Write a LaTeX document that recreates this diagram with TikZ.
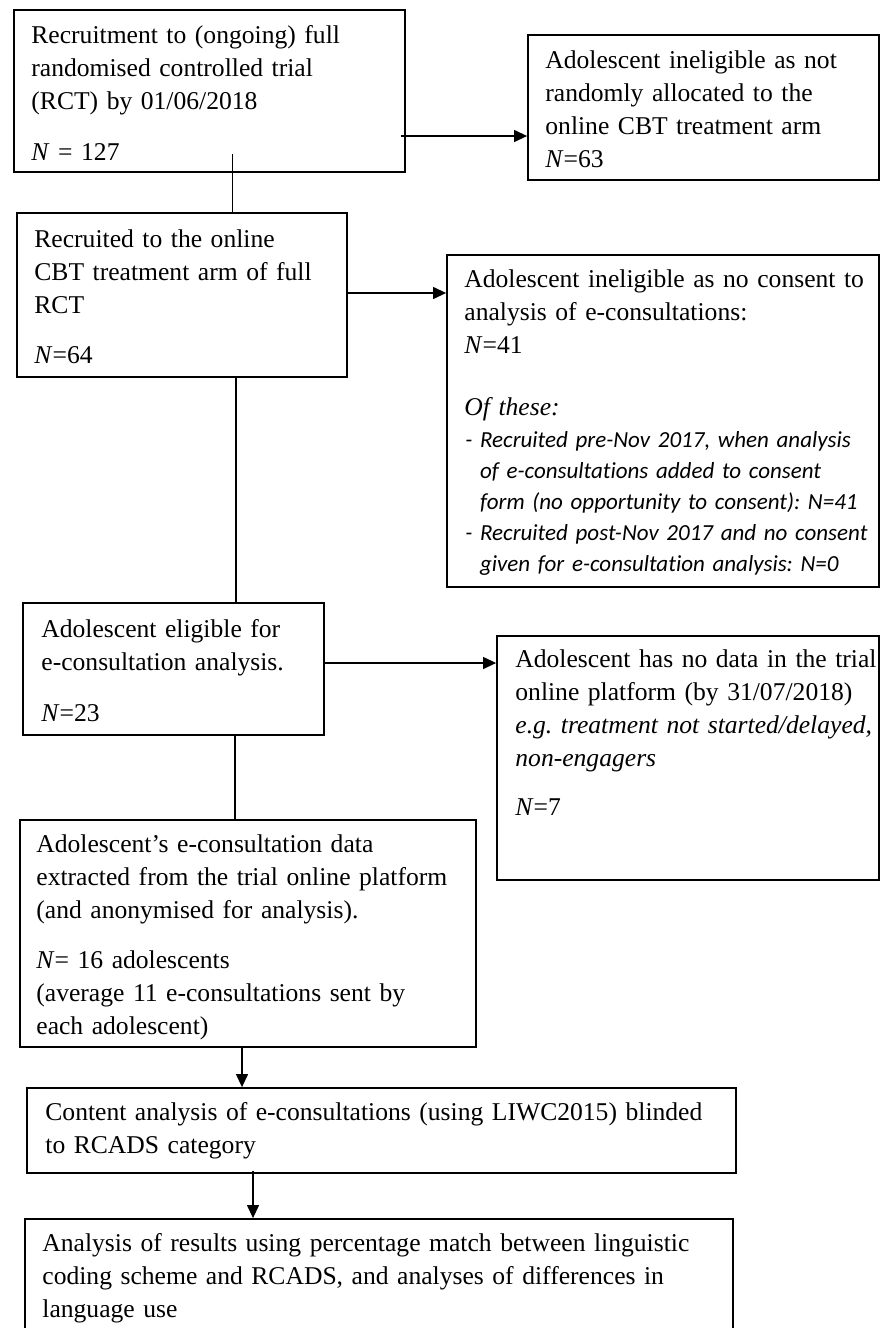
\documentclass[tikz,border=0pt]{standalone}
\usepackage{fontspec}
\setmainfont{Liberation Serif}
\newfontfamily\calibri[Ligatures=NoCommon]{Carlito}
\usetikzlibrary{arrows.meta,fit}
\frenchspacing

\begin{document}
\begin{tikzpicture}[x=0.5pt,y=-0.5pt,
    box/.style={draw, line width=0.9pt, inner sep=0pt},
    txt/.style={anchor=base west, inner sep=0pt, text width=360pt, align=left,
        font=\fontsize{12.8}{16.5}\selectfont},
    lst/.style={txt, font=\calibri\itshape\fontsize{11.5}{15.5}\selectfont},
    link/.style={line width=0.6pt},
    arr/.style={link, -{Triangle[length=6.5pt,width=6pt]}}]
    \clip (0,0) rectangle (880,1328);

    % boxes
    \node[box, fit={(14,10) (405,172)}] (rct) {};
    \node[box, fit={(528,35) (879,180)}] (notrand) {};
    \node[box, fit={(17,213) (347,377)}] (arm) {};
    \node[box, fit={(447,255) (879,587)}] (noconsent) {};
    \node[box, fit={(23,603) (324,735)}] (eligible) {};
    \node[box, fit={(497,636) (879,880)}] (nodata) {};
    \node[box, fit={(20,820) (476,1047)}] (extracted) {};
    \node[box, fit={(27,1088) (736,1173)}] (content) {};
    \node[box, fit={(25,1219) (733,1360)}] (results) {};

    % texts
    \node[txt] (rct-t) at (31,43) {Recruitment to (ongoing) full\\
        randomised controlled trial\\
        (RCT) by 01/06/2018\\[9pt]
        \textit{N} = 127};
    \node[txt] (notrand-t) at (545,68) {Adolescent ineligible as not\\
        randomly allocated to the\\
        online CBT treatment arm\\
        \textit{N}=63};
    \node[txt] (arm-t) at (34,247) {Recruited to the online\\
        CBT treatment arm of full\\
        RCT\\[8.5pt]
        \textit{N}=64};
    \node[txt] (noconsent-t) at (464,287) {Adolescent ineligible as no consent to\\
        analysis of e-consultations:\\
        \textit{N}=41\\[14.5pt]
        \textit{Of these:}};
    \node[lst] (noconsent-l) at (465,447) {- Recruited pre-Nov 2017, when analysis\\
        \hphantom{- }of e-consultations added to consent\\
        \hphantom{- }form (no opportunity to consent): N=41\\
        - Recruited post-Nov 2017 and no consent\\
        \hphantom{- }given for e-consultation analysis: N=0};
    \node[txt] (eligible-t) at (41,637) {Adolescent eligible for\\
        e-consultation analysis.\\[9pt]
        \textit{N}=23};
    \node[txt] (nodata-t) at (515,667) {Adolescent has no data in the trial\\
        online platform (by 31/07/2018)\\
        \textit{e.g. treatment not started/delayed,}\\
        \textit{non-engagers}\\[8pt]
        \textit{N}=7};
    \node[txt] (extracted-t) at (36,852) {Adolescent’s e-consultation data\\
        extracted from the trial online platform\\
        (and anonymised for analysis).\\[8.5pt]
        \textit{N}= 16 adolescents\\
        (average 11 e-consultations sent by\\
        each adolescent)};
    \node[txt] (content-t) at (45,1120) {Content analysis of e-consultations (using LIWC2015) blinded\\
        to RCADS category};
    \node[txt] (results-t) at (42,1251) {Analysis of results using percentage match between linguistic\\
        coding scheme and RCADS, and analyses of differences in\\
        language use};

    % connectors
    \draw[arr] ([xshift=-2.5pt]rct.east |- 0,136) -- (notrand.west |- 0,136);
    \draw[link] ([yshift=9.5pt]rct.south -| 232.5,0) -- (arm.north -| 232.5,0);
    \draw[arr] (arm.east |- 0,293) -- (noconsent.west |- 0,293);
    \draw[link] (arm.south -| 236,0) -- (eligible.north -| 236,0);
    \draw[arr] (eligible.east |- 0,663) -- (nodata.west |- 0,663);
    \draw[link] (eligible.south -| 235,0) -- (extracted.north -| 235,0);
    \draw[arr] (extracted.south -| 242,0) -- (content.north -| 242,0);
    \draw[arr] ([yshift=1.5pt]content.south -| 253,0) -- (results.north -| 253,0);
\end{tikzpicture}
\end{document}
